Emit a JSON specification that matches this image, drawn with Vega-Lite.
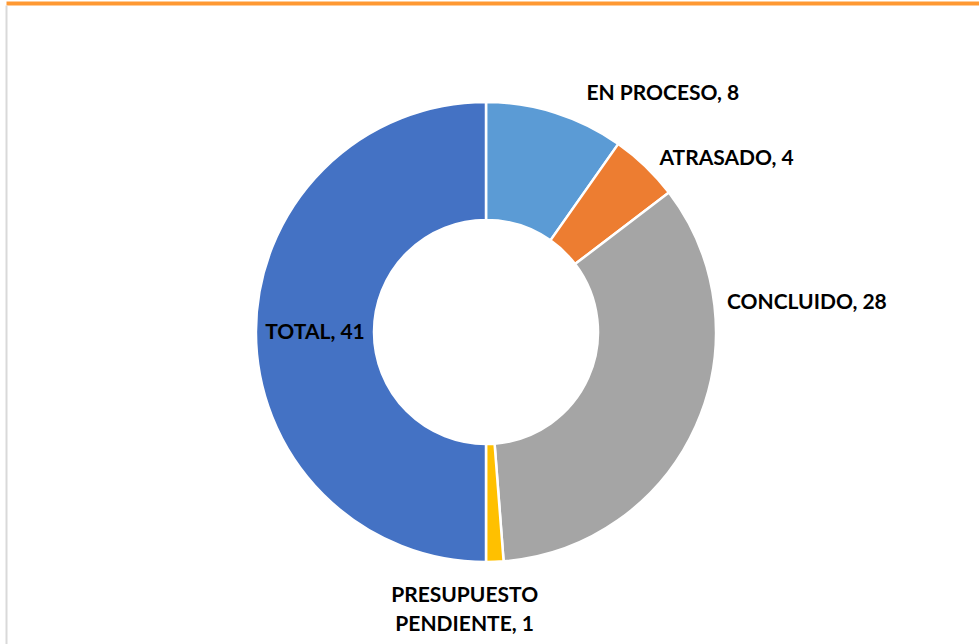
{
  "$schema": "https://vega.github.io/schema/vega-lite/v6.json",
  "width": 973,
  "height": 639,
  "autosize": {"type": "none"},
  "padding": {"left": 6, "top": 5, "right": 0, "bottom": 0},
  "background": "white",
  "config": {
    "view": {"stroke": null},
    "text": {"font": "Lato", "fontWeight": "bold", "fontSize": 21, "fill": "#000000"}
  },
  "data": {
    "values": [
      {"estado": "EN PROCESO", "valor": 8, "orden": 1, "etiqueta": "EN PROCESO, 8"},
      {"estado": "ATRASADO", "valor": 4, "orden": 2, "etiqueta": "ATRASADO, 4"},
      {"estado": "CONCLUIDO", "valor": 28, "orden": 3, "etiqueta": "CONCLUIDO, 28"},
      {"estado": "PRESUPUESTO PENDIENTE", "valor": 1, "orden": 4, "etiqueta": "PRESUPUESTO\nPENDIENTE, 1"},
      {"estado": "TOTAL", "valor": 41, "orden": 5, "etiqueta": "TOTAL, 41"}
    ]
  },
  "encoding": {
    "theta": {"field": "valor", "type": "quantitative", "stack": true},
    "order": {"field": "orden", "type": "quantitative"}
  },
  "layer": [
    {
      "mark": {"type": "point", "opacity": 0},
      "encoding": {
        "theta": null,
        "order": null,
        "x": {"field": "valor", "type": "quantitative",
          "axis": {"orient": "top", "labels": false, "ticks": false, "title": null, "grid": false,
            "domainColor": "#ff9933", "domainWidth": 4, "offset": 2, "minExtent": 0, "maxExtent": 0, "labelPadding": 0}},
        "y": {"field": "orden", "type": "quantitative",
          "axis": {"orient": "left", "labels": false, "ticks": false, "title": null, "grid": false,
            "domainColor": "#d9d9d9", "domainWidth": 2, "offset": 0, "minExtent": 0, "maxExtent": 0, "labelPadding": 0}}
      }
    },
    {
      "mark": {"type": "arc", "outerRadius": 230, "innerRadius": 112, "stroke": "white", "strokeWidth": 2.5, "xOffset": -6.5, "yOffset": 7.5},
      "encoding": {
        "color": {"field": "estado", "type": "nominal", "legend": null,
          "scale": {"domain": ["EN PROCESO", "ATRASADO", "CONCLUIDO", "PRESUPUESTO PENDIENTE", "TOTAL"],
            "range": ["#5B9BD5", "#ED7D31", "#A5A5A5", "#FFC000", "#4472C4"]}}
      }
    },
    {
      "mark": {"type": "text", "radius": 250, "align": "left", "baseline": "middle", "dx": 25, "dy": 0, "xOffset": -6.5, "yOffset": 7.5},
      "encoding": {"text": {"condition": {"test": "datum.estado === 'EN PROCESO'", "field": "etiqueta"}, "value": ""}}
    },
    {
      "mark": {"type": "text", "radius": 240, "align": "left", "baseline": "middle", "dx": 7, "dy": 0, "xOffset": -6.5, "yOffset": 7.5},
      "encoding": {"text": {"condition": {"test": "datum.estado === 'ATRASADO'", "field": "etiqueta"}, "value": ""}}
    },
    {
      "mark": {"type": "text", "radius": 240, "align": "left", "baseline": "middle", "dx": 22, "dy": -127, "xOffset": -6.5, "yOffset": 7.5},
      "encoding": {"text": {"condition": {"test": "datum.estado === 'CONCLUIDO'", "field": "etiqueta"}, "value": ""}}
    },
    {
      "mark": {"type": "text", "radius": 278, "align": "center", "baseline": "middle", "dx": -32, "dy": -14, "lineBreak": "\n", "lineHeight": 29, "xOffset": -6.5, "yOffset": 7.5},
      "encoding": {"text": {"condition": {"test": "datum.estado === 'PRESUPUESTO PENDIENTE'", "field": "etiqueta"}, "value": ""}}
    },
    {
      "mark": {"type": "text", "radius": 171, "align": "center", "baseline": "middle", "dx": 0, "dy": 1, "xOffset": -6.5, "yOffset": 7.5},
      "encoding": {"text": {"condition": {"test": "datum.estado === 'TOTAL'", "field": "etiqueta"}, "value": ""}}
    }
  ]
}
